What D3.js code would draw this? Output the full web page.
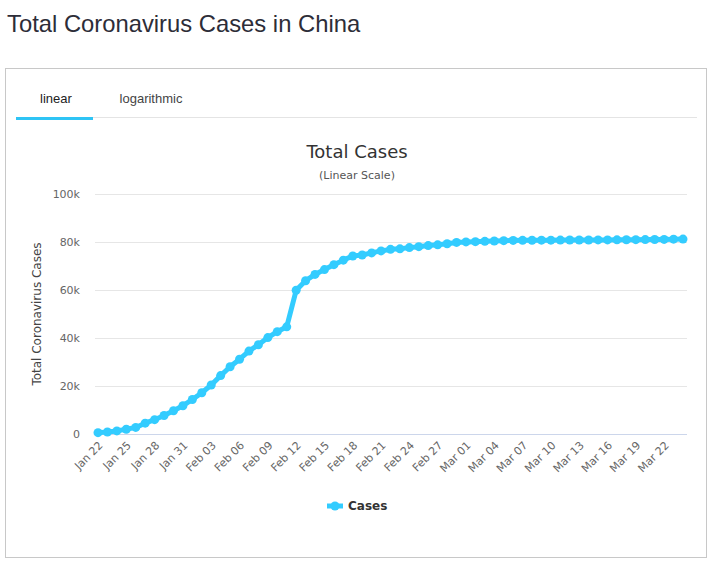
<!DOCTYPE html>
<html>
<head>
<meta charset="utf-8">
<title>Total Coronavirus Cases in China</title>
<script src="https://d3js.org/d3.v7.min.js"></script>
<style>
  body { margin: 0; background: #fff; font-family: "Liberation Sans", Arial, sans-serif; }
  #viz { position: relative; width: 715px; height: 566px; }
  svg text { font-family: "DejaVu Sans", "Lucida Grande", sans-serif; }
  svg text.page { font-family: "Liberation Sans", Arial, sans-serif; }
</style>
</head>
<body>
<div id="viz"></div>
<script>

// dates shown on the x axis (one per day)
var startDay = new Date(2020, 0, 22);
var dayCount = 63;
var dates = d3.range(dayCount).map(function (i) { return d3.timeDay.offset(startDay, i) });

// total cases, Jan 22 .. Mar 24
var cases = [
  571, 830, 1287, 1975, 2744, 4515, 5974, 7711, 9692, 11791,
  14380, 17205, 20438, 24324, 28018, 31161, 34546, 37198, 40171, 42638,
  44653, 59895, 63851, 66492, 68500, 70548, 72436, 74185, 74576, 75465,
  76288, 76936, 77150, 77658, 78064, 78497, 78824, 79251, 79824, 80026,
  80151, 80270, 80409, 80552, 80651, 80695, 80735, 80754, 80778, 80793,
  80813, 80824, 80844, 80860, 80881, 80894, 80928, 80967, 81008, 81054,
  81093, 81171, 81218
];

var yTicks = [0, 20000, 40000, 60000, 80000, 100000];
var tabs = ["linear", "logarithmic"];

var color = "#33ccff";

var svg = d3.select("#viz")
  .append("svg")
  .attr("width", 715)
  .attr("height", 566);

// page title
svg.append("text")
  .attr("class", "page")
  .attr("x", 7)
  .attr("y", 32)
  .style("font-size", "23.8px")
  .style("fill", "#2d2d38")
  .text("Total Coronavirus Cases in China");

// panel box
svg.append("rect")
  .attr("x", 5.5).attr("y", 68.5)
  .attr("width", 701).attr("height", 489)
  .attr("fill", "none")
  .attr("stroke", "#c8c8c8");

// tabs
svg.append("line")
  .attr("x1", 16).attr("x2", 697)
  .attr("y1", 117.5).attr("y2", 117.5)
  .attr("stroke", "#e4e4e4");
svg.append("rect")
  .attr("x", 16).attr("y", 117)
  .attr("width", 77).attr("height", 3)
  .attr("fill", "#2ec4f5");
svg.selectAll(".tab")
  .data(tabs)
  .enter()
  .append("text")
  .attr("class", "tab page")
  .attr("x", function (d, i) { return i == 0 ? 56 : 151 })
  .attr("y", 103)
  .attr("text-anchor", "middle")
  .style("font-size", "13px")
  .style("fill", function (d, i) { return i == 0 ? "#222" : "#444" })
  .text(function (d) { return d });

// chart titles
svg.append("text")
  .attr("x", 357).attr("y", 158)
  .attr("text-anchor", "middle")
  .style("font-size", "18px")
  .style("fill", "#333")
  .text("Total Cases");
svg.append("text")
  .attr("x", 357).attr("y", 179)
  .attr("text-anchor", "middle")
  .style("font-size", "11px")
  .style("fill", "#555")
  .text("(Linear Scale)");

// scales
var x = d3.scaleLinear()
  .domain([0, dayCount - 1])
  .range([98, 683]);

var y = d3.scaleLinear()
  .domain([0, 100000])
  .range([434, 194]);

// grid lines
svg.append("g")
  .selectAll("line")
  .data(yTicks)
  .enter()
  .append("line")
  .attr("x1", 95).attr("x2", 687)
  .attr("y1", function (d) { return Math.round(y(d)) + 0.5 })
  .attr("y2", function (d) { return Math.round(y(d)) + 0.5 })
  .attr("stroke", function (d) { return d == 0 ? "#ccd6eb" : "#e6e6e6" });

// y axis labels
var yAxis = d3.axisLeft(y)
  .tickValues(yTicks)
  .tickSize(0)
  .tickPadding(0)
  .tickFormat(function (d) { return d == 0 ? "0" : (d / 1000) + "k" });
var gy = svg.append("g")
  .attr("transform", "translate(80,0)")
  .call(yAxis);
gy.select(".domain").remove();
gy.selectAll("text")
  .attr("dy", "0.35em")
  .style("font-size", "11px")
  .style("fill", "#666");

svg.append("text")
  .attr("transform", "translate(41,314) rotate(-90)")
  .attr("text-anchor", "middle")
  .style("font-size", "12px")
  .style("fill", "#444")
  .text("Total Coronavirus Cases");

// x axis labels, every third day
var fmt = d3.timeFormat("%b %d");
var xAxis = d3.axisBottom(x)
  .tickValues(d3.range(0, dayCount, 3))
  .tickSize(0)
  .tickPadding(0)
  .tickFormat(function (i) { return fmt(dates[i]) });
var gx = svg.append("g")
  .attr("transform", "translate(0,434)")
  .call(xAxis);
gx.select(".domain").remove();
gx.selectAll("text")
  .attr("text-anchor", "end")
  .attr("dy", null)
  .attr("y", 0)
  .attr("transform", "translate(5,12) rotate(-45)")
  .style("font-size", "11px")
  .style("fill", "#666");

// line
svg.append("path")
  .datum(cases)
  .attr("d", d3.line()
    .x(function (d, i) { return x(i) })
    .y(function (d) { return y(d) }))
  .attr("fill", "none")
  .attr("stroke", color)
  .attr("stroke-width", 5)
  .attr("stroke-linejoin", "round");

svg.append("g")
  .selectAll("circle")
  .data(cases)
  .enter()
  .append("circle")
  .attr("cx", function (d, i) { return x(i) })
  .attr("cy", function (d) { return y(d) })
  .attr("r", 4.5)
  .attr("fill", color);

// legend
svg.append("line")
  .attr("x1", 327).attr("x2", 343)
  .attr("y1", 506).attr("y2", 506)
  .attr("stroke", color)
  .attr("stroke-width", 5);
svg.append("circle")
  .attr("cx", 335).attr("cy", 506).attr("r", 4.5)
  .attr("fill", color);
svg.append("text")
  .attr("x", 348).attr("y", 510)
  .style("font-size", "12px")
  .style("font-weight", "bold")
  .style("fill", "#333")
  .text("Cases");

</script>
</body>
</html>
